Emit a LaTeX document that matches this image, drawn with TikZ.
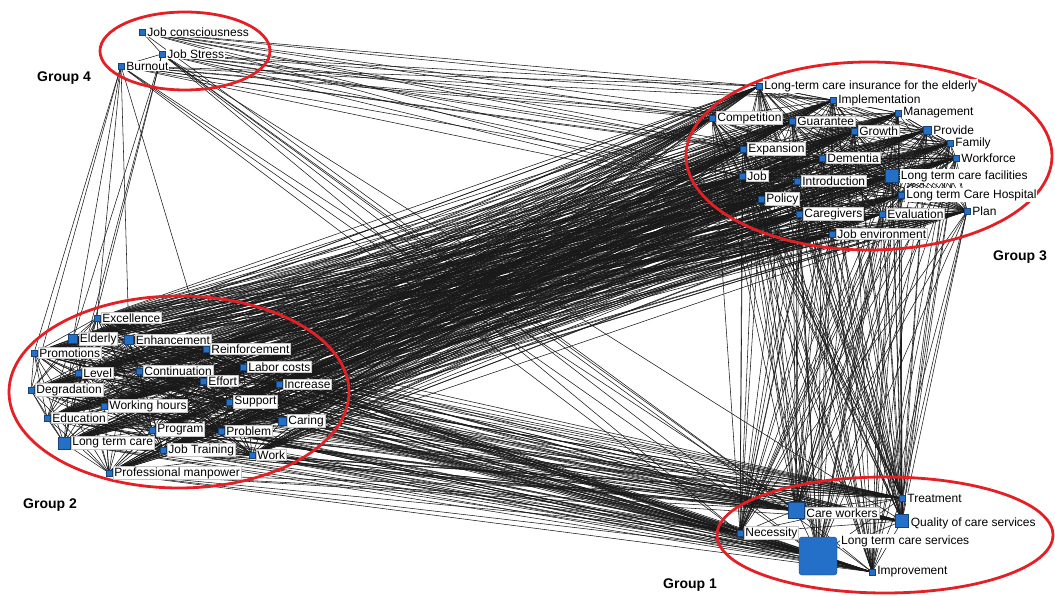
\documentclass[tikz,border=0pt]{standalone}
\usepackage{fontspec}
\setmainfont{Liberation Sans}
\pgfdeclarelayer{bg}
\pgfdeclarelayer{edges}
\pgfdeclarelayer{rings}
\pgfsetlayers{bg,edges,rings,main}
\definecolor{mblue}{RGB}{36,112,200}
\definecolor{mred}{RGB}{228,32,38}
\begin{document}
\begin{tikzpicture}[x=1pt,y=-1pt,
  mk/.style={rectangle,draw=mblue!60!black,fill=mblue,line width=0.4pt,inner sep=0pt,minimum size=#1},
  mk/.default=6pt,
  lab/.style={anchor=west,fill=white,draw=gray!45,line width=0.4pt,inner sep=1pt,font=\fontsize{12}{13}\selectfont,xshift=1pt},
  labp/.style={lab,draw=none},
  grp/.style={font=\fontsize{14}{16}\selectfont\bfseries},
  ring/.style={draw=mred,line width=2.8pt},
  edge/.style={black!90,line width=0.55pt}]
\begin{pgfonlayer}{bg}
\fill[white] (0,0) rectangle (1055,596);
\end{pgfonlayer}
\useasboundingbox (0,0) rectangle (1055,596);

% ---------- Group 4
\node[mk] (jc) at (142,32) {};
\node[labp] (jc-l) at (jc.east) {Job consciousness};
\node[mk] (js) at (162,54) {};
\node[labp] (js-l) at (js.east) {Job Stress};
\node[mk] (bo) at (121,66) {};
\node[labp] (bo-l) at (bo.east) {Burnout};

% ---------- Group 3
\node[mk] (ltci) at (759,86) {};
\node[labp] (ltci-l) at (ltci.east) {Long-term care insurance for the elderly};
\node[mk] (impl) at (833,100) {};
\node[labp] (impl-l) at (impl.east) {Implementation};
\node[mk] (comp) at (712,118) {};
\node[lab] (comp-l) at (comp.east) {Competition};
\node[mk] (guar) at (792,121) {};
\node[lab] (guar-l) at (guar.east) {Guarantee};
\node[mk] (mgmt) at (898,113) {};
\node[labp] (mgmt-l) at (mgmt.east) {Management};
\node[mk] (grow) at (854,131) {};
\node[lab] (grow-l) at (grow.east) {Growth};
\node[mk=8pt] (prov) at (927,130) {};
\node[labp] (prov-l) at (prov.east) {Provide};
\node[mk] (fam) at (950,143) {};
\node[labp] (fam-l) at (fam.east) {Family};
\node[mk] (expa) at (743,149) {};
\node[lab] (expa-l) at (expa.east) {Expansion};
\node[mk] (deme) at (822,158) {};
\node[lab] (deme-l) at (deme.east) {Dementia};
\node[mk] (wf) at (956,158) {};
\node[labp] (wf-l) at (wf.east) {Workforce};
\node[mk=13pt] (ltcf) at (892,176) {};
\node[labp] (ltcf-l) at (ltcf.east) {Long term care facilities};
\node[mk] (job) at (742,176) {};
\node[lab] (job-l) at (job.east) {Job};
\node[mk] (intr) at (797,181) {};
\node[lab] (intr-l) at (intr.east) {Introduction};
\node[mk] (ltch) at (901,195) {};
\node[labp] (ltch-l) at (ltch.east) {Long term Care Hospital};
\node[mk] (pol) at (761,199) {};
\node[lab] (pol-l) at (pol.east) {Policy};
\node[mk] (carg) at (799,214) {};
\node[lab] (carg-l) at (carg.east) {Caregivers};
\node[mk] (eval) at (882,214) {};
\node[lab] (eval-l) at (eval.east) {Evaluation};
\node[mk] (plan) at (967,211) {};
\node[labp] (plan-l) at (plan.east) {Plan};
\node[mk] (jenv) at (832,234) {};
\node[lab] (jenv-l) at (jenv.east) {Job environment};

% ---------- Group 2
\node[mk] (exc) at (97,318) {};
\node[lab] (exc-l) at (exc.east) {Excellence};
\node[mk=9pt] (eld) at (73,339) {};
\node[lab] (eld-l) at (eld.east) {Elderly};
\node[mk=9pt] (enh) at (129,340) {};
\node[lab] (enh-l) at (enh.east) {Enhancement};
\node[mk] (prom) at (34,353) {};
\node[lab] (prom-l) at (prom.east) {Promotions};
\node[mk] (reinf) at (206,349) {};
\node[lab] (reinf-l) at (reinf.east) {Reinforcement};
\node[mk] (lvl) at (78,373) {};
\node[lab] (lvl-l) at (lvl.east) {Level};
\node[mk] (cont) at (139,371) {};
\node[lab] (cont-l) at (cont.east) {Continuation};
\node[mk] (labc) at (243,367) {};
\node[lab] (labc-l) at (labc.east) {Labor costs};
\node[mk] (eff) at (203,381) {};
\node[lab] (eff-l) at (eff.east) {Effort};
\node[mk] (inc) at (279,384) {};
\node[lab] (inc-l) at (inc.east) {Increase};
\node[mk] (degr) at (31,390) {};
\node[lab] (degr-l) at (degr.east) {Degradation};
\node[mk] (wh) at (104,406) {};
\node[lab] (wh-l) at (wh.east) {Working hours};
\node[mk] (supp) at (229,402) {};
\node[lab] (supp-l) at (supp.east) {Support};
\node[mk] (edu) at (47,418) {};
\node[lab] (edu-l) at (edu.east) {Education};
\node[mk=8pt] (car) at (282,421) {};
\node[lab] (car-l) at (car.east) {Caring};
\node[mk] (prog) at (152,430) {};
\node[lab] (prog-l) at (prog.east) {Program};
\node[mk] (prob) at (221,431) {};
\node[lab] (prob-l) at (prob.east) {Problem};
\node[mk=12pt] (ltc) at (64,443) {};
\node[lab] (ltc-l) at (ltc.east) {Long term care};
\node[mk] (jt) at (163,450) {};
\node[lab] (jt-l) at (jt.east) {Job Training};
\node[mk] (work) at (252,455) {};
\node[lab] (work-l) at (work.east) {Work};
\node[mk] (pm) at (109,473) {};
\node[lab] (pm-l) at (pm.east) {Professional manpower};

% ---------- Group 1
\node[mk] (trt) at (902,498) {};
\node[labp] (trt-l) at (trt.east) {Treatment};
\node[mk=16pt] (cw) at (796,510) {};
\node[lab] (cw-l) at ([yshift=-3pt]cw.east) {Care workers};
\node[mk=13pt] (qcs) at (902,521) {};
\node[labp] (qcs-l) at ([yshift=-2pt]qcs.east) {Quality of care services};
\node[mk] (nec) at (740,533) {};
\node[lab] (nec-l) at (nec.east) {Necessity};
\node[mk=38pt,rounded corners=3pt] (ltcs) at (818,556) {};
\node[labp] (ltcs-l) at (839,541) {Long term care services};
\node[mk] (imp) at (872,572) {};
\node[labp] (imp-l) at (imp.east) {Improvement};

% ---------- group titles
\node[grp] (t4) at (64,78) {Group 4};
\node[grp] (t3) at (1020,257) {Group 3};
\node[grp] (t2) at (50,505) {Group 2};
\node[grp] (t1) at (690,585) {Group 1};

% ---------- rings
\begin{pgfonlayer}{rings}
\draw[ring] (185,51) ellipse [x radius=85, y radius=39];
\draw[ring] (869,156) ellipse [x radius=183, y radius=94];
\draw[ring] (179,392) ellipse [x radius=170, y radius=96];
\draw[ring] (885,535) ellipse [x radius=168, y radius=58];
\end{pgfonlayer}

% ---------- edges
\def\GA{trt,cw,qcs,nec,ltcs,imp}
\def\GB{exc,eld,enh,prom,reinf,lvl,cont,labc,eff,inc,degr,wh,supp,edu,car,prog,prob,ltc,jt,work,pm}
\def\GC{ltci,impl,comp,guar,mgmt,grow,prov,fam,expa,deme,wf,ltcf,job,intr,ltch,pol,carg,eval,plan,jenv}
\begin{pgfonlayer}{edges}
% between groups
\foreach \a in \GB { \foreach \b in \GC { \draw[edge] (\a.center) -- (\b.center); } }
\foreach \a in \GB { \foreach \b in \GA { \draw[edge] (\a.center) -- (\b.center); } }
\foreach \a in \GC { \foreach \b in \GA { \draw[edge] (\a.center) -- (\b.center); } }
% group 4 links
\foreach \a in {jc,js,bo} { \foreach \b in {ltci,comp,expa,job,guar,impl,pol,deme} { \draw[edge] (\a.center) -- (\b.center); } }
\foreach \b in {nec,cw,ltcs,imp,qcs} { \draw[edge] (js.center) -- (\b.center); }
\foreach \b in {nec,cw,ltcs} { \draw[edge] (bo.center) -- (\b.center); }
\draw[edge] (jc.center) -- (cw.center);
\foreach \b in {eld,prom,exc,enh,reinf,degr} { \draw[edge] (bo.center) -- (\b.center); }
\foreach \b in {eld,ltc,lvl} { \draw[edge] (js.center) -- (\b.center); }
\draw[edge] (jc.center) -- (js.center);
\draw[edge] (js.center) -- (bo.center);
% within groups
\foreach \a [count=\i] in \GA { \foreach \b [count=\j] in \GA { \ifnum\j>\i \draw[edge] (\a.center) -- (\b.center); \fi } }
\foreach \a [count=\i] in \GB { \foreach \b [count=\j] in \GB { \ifnum\j>\i \draw[edge] (\a.center) -- (\b.center); \fi } }
\foreach \a [count=\i] in \GC { \foreach \b [count=\j] in \GC { \ifnum\j>\i \draw[edge] (\a.center) -- (\b.center); \fi } }
\end{pgfonlayer}
\end{tikzpicture}
\end{document}
